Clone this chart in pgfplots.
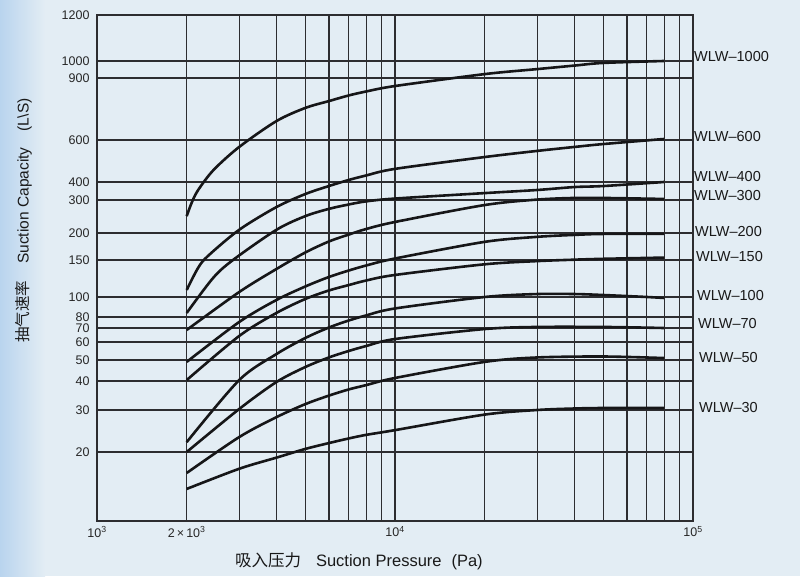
\documentclass[border=0pt]{standalone}
\usepackage{pgfplots}
\pgfplotsset{compat=1.18}
\usepackage{fontspec}
\setmainfont{Liberation Sans}
\newfontfamily\cjk{Noto Sans CJK SC}
\definecolor{bg}{RGB}{227,237,244}
\definecolor{bgl}{RGB}{185,212,238}
\definecolor{gridc}{RGB}{45,45,48}
\definecolor{curvec}{RGB}{22,22,24}

\pgfplotstableread{
x y
2000 246
2076 289
2185 352
2460 449
3000 561
4000 679
5000 740
6000 774
7000 803
8000 824
10000 854
20000 922
30000 951
40000 972
50000 988
80000 1000
}\wlwthousand
\pgfplotstableread{
x y
2000 108
2180 137
2350 156
3000 208
4000 275
5000 330
6000 375
7000 408
8000 426
10000 454
20000 509
30000 540
40000 561
50000 577
80000 604
}\wlwsixhundred
\pgfplotstableread{
x y
2000 83.7
2450 123
2860 150
4000 208
5000 246
6000 269
7000 284
8000 295
10000 307
20000 335
30000 352
40000 369
50000 375
80000 400
}\wlwfourhundred
\pgfplotstableread{
x y
2000 68.5
3000 105.6
4000 135.9
5000 162.5
6000 182.7
7000 196.8
8000 210
10000 229
20000 282
30000 302
40000 310
50000 310
80000 305
}\wlwthreehundred
\pgfplotstableread{
x y
2000 49.0
3000 75.3
4000 96.7
5000 112.2
6000 124.5
7000 133.7
8000 141.2
10000 152.4
20000 182
30000 192
40000 196
50000 198
80000 198
}\wlwtwohundred
\pgfplotstableread{
x y
2000 40.4
3000 64.1
4000 83.7
5000 97.8
6000 107.4
7000 114.0
8000 119.8
10000 127.3
20000 143.1
30000 148.2
40000 150.5
50000 151.9
80000 153.9
}\wlwonefifty
\pgfplotstableread{
x y
2000 22.0
3000 40.4
4000 53.1
5000 62.7
6000 70.4
7000 76.7
8000 81.4
10000 88.0
20000 100
30000 103.3
40000 103.3
50000 102.2
70000 100
80000 98.9
}\wlwhundred
\pgfplotstableread{
x y
2000 20
3000 30.3
4000 39.6
5000 46.4
6000 51.3
7000 54.8
8000 57.6
10000 62.0
20000 69.2
30000 70.9
50000 70.9
80000 70
}\wlwseventy
\pgfplotstableread{
x y
2000 16.2
3000 23.1
4000 28.0
5000 31.8
6000 34.6
7000 36.8
8000 38.4
10000 41.3
20000 49.0
30000 51.3
50000 51.8
80000 51.0
}\wlwfifty
\pgfplotstableread{
x y
2000 13.8
3000 16.9
4000 18.9
5000 20.6
6000 21.8
7000 22.8
8000 23.6
10000 24.7
20000 28.7
30000 30
40000 30.45
50000 30.6
80000 30.6
}\wlwthirty

\begin{document}
\begin{tikzpicture}
\fill[bg] (0pt,0pt) rectangle (800pt,576pt);
\shade[left color=bgl, right color=bg] (0pt,0pt) rectangle (45pt,576pt);
\begin{axis}[
  at={(97pt,55pt)}, anchor=south west,
  scale only axis, width=596pt, height=506pt,
  xmode=log, xmin=1000, xmax=100000,
  ymin=10, ymax=1200,
  y coord trafo/.code={%
    \pgfmathparse{ln(#1)}\let\Lv\pgfmathresult
    \pgfmathparse{\Lv<2.995732 ? 69*(\Lv-2.302585)/0.693147 :
     (\Lv<3.401197 ? 69+42*(\Lv-2.995732)/0.405465 :
     (\Lv<3.688879 ? 111+29*(\Lv-3.401197)/0.287682 :
     (\Lv<3.912023 ? 140+21*(\Lv-3.688879)/0.223144 :
     (\Lv<4.094345 ? 161+18*(\Lv-3.912023)/0.182322 :
     (\Lv<4.248495 ? 179+14*(\Lv-4.094345)/0.154151 :
     (\Lv<4.382027 ? 193+11*(\Lv-4.248495)/0.133531 :
     (\Lv<4.605170 ? 204+20*(\Lv-4.382027)/0.223144 :
     (\Lv<5.010635 ? 224+37*(\Lv-4.605170)/0.405465 :
     (\Lv<5.298317 ? 261+27*(\Lv-5.010635)/0.287682 :
     (\Lv<5.703782 ? 288+33*(\Lv-5.298317)/0.405465 :
     (\Lv<5.991465 ? 321+18*(\Lv-5.703782)/0.287682 :
     (\Lv<6.396930 ? 339+42*(\Lv-5.991465)/0.405465 :
     (\Lv<6.802395 ? 381+62*(\Lv-6.396930)/0.405465 :
     (\Lv<6.907755 ? 443+17*(\Lv-6.802395)/0.105361 :
      460+46*(\Lv-6.907755)/0.182322)))))))))))))))}%
  },
  xtick={1000,2000,3000,4000,5000,6000,7000,8000,9000,10000,20000,30000,40000,50000,60000,70000,80000,90000,100000},
  xticklabels={10\textsuperscript{3},2\,×\,10\textsuperscript{3},,,,,,,,10\textsuperscript{4},,,,,,,,,10\textsuperscript{5}},
  ytick={20,30,40,50,60,70,80,100,150,200,300,400,600,900,1000,1200},
  yticklabels={20,30,40,50,60,70,80,100,150,200,300,400,600,900,1000,1200},
  grid=major,
  major tick length=0pt,
  minor tick length=0pt,
  grid style={line width=1.2pt, color=gridc},
  axis line style={line width=1.5pt, color=gridc},
  tick label style={font=\fontsize{12.5}{14}\selectfont, color=black!85},
  yticklabel style={xshift=-4pt},
  xticklabel style={yshift=-2pt},
  wl/.style={color=curvec, solid, line width=2.6pt, smooth, mark=none},
]
\addplot[wl] table[x=x,y=y] {\wlwthousand};
\addplot[wl] table[x=x,y=y] {\wlwsixhundred};
\addplot[wl] table[x=x,y=y] {\wlwfourhundred};
\addplot[wl] table[x=x,y=y] {\wlwthreehundred};
\addplot[wl] table[x=x,y=y] {\wlwtwohundred};
\addplot[wl] table[x=x,y=y] {\wlwonefifty};
\addplot[wl] table[x=x,y=y] {\wlwhundred};
\addplot[wl] table[x=x,y=y] {\wlwseventy};
\addplot[wl] table[x=x,y=y] {\wlwfifty};
\addplot[wl] table[x=x,y=y] {\wlwthirty};
\end{axis}
\begin{scope}[every node/.style={anchor=west, inner sep=0pt, font=\fontsize{14.5}{16}\selectfont, text=black!90}]
\node at (694pt,519pt) {WLW--1000};
\node at (694pt,439pt) {WLW--600};
\node at (694pt,399pt) {WLW--400};
\node at (694pt,380pt) {WLW--300};
\node at (695pt,344pt) {WLW--200};
\node at (696pt,319pt) {WLW--150};
\node at (697pt,280pt) {WLW--100};
\node at (698pt,252pt) {WLW--70};
\node at (699pt,218pt) {WLW--50};
\node at (699pt,168pt) {WLW--30};
\end{scope}
\node[anchor=base west, inner sep=0pt, font=\fontsize{16.5}{18}\selectfont, text=black!90] at (235pt,10pt)
  {{\cjk 吸入压力}\hspace{0.9em}Suction Pressure\hspace{0.6em}(Pa)};
\node[rotate=90, anchor=base west, inner sep=0pt, font=\fontsize{15.5}{17}\selectfont, text=black!90] at (28.5pt,233pt)
  {{\cjk 抽气速率}\hspace{1.1em}Suction Capacity\hspace{1em}(L\textbackslash S)};
\path (0pt,0pt) rectangle (800pt,576pt);
\end{tikzpicture}
\end{document}
